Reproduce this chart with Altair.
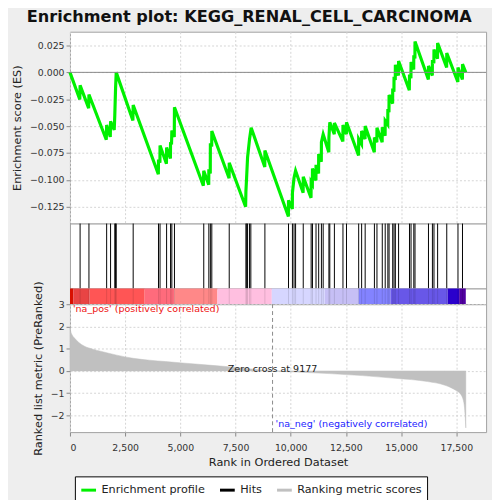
import altair as alt
import pandas as pd

# running enrichment score (rank, ES)
es_rank = [0, 445, 459, 846, 859, 1645, 1661, 1826, 1839, 2004, 2030, 2065, 2095,
           2850, 2863, 4003, 4010, 4075, 4080, 4370, 4377, 4550, 4556, 4600, 4615,
           4725, 4733, 6041, 6060, 6285, 6290, 6355, 6360, 6420, 6425, 7208, 7214,
           7956, 7970, 8000, 8045, 8135, 8208, 8825, 8830, 9894, 9899, 10072, 10077,
           10150, 10220, 10562, 10567, 10920, 10925, 10980, 10985, 11141, 11146,
           11261, 11266, 11385, 11390, 11470, 11725, 11730, 11770, 11973, 11978,
           12361, 12366, 12521, 12526, 13073, 13078, 13207, 13212, 13367, 13372,
           13786, 13791, 13901, 13906, 14142, 14147, 14275, 14280, 14395, 14400,
           14450, 14455, 14615, 14620, 14675, 14680, 14735, 14740, 14881, 14886,
           15372, 15380, 15445, 15450, 15570, 15575, 15625, 15630, 16235, 16240,
           16413, 16418, 16484, 16489, 16649, 16654, 17063, 17068, 17571, 17576,
           17776, 17781, 17930]
es_score = [0.0, -0.0252, -0.0121, -0.0333, -0.0206, -0.0627, -0.049, -0.060, -0.0455,
            -0.0536, -0.040, -0.015, 0.0,
            -0.0448, -0.0303, -0.0948, -0.081, -0.084, -0.068, -0.085, -0.070,
            -0.080, -0.065, -0.067, -0.054,
            -0.060, -0.0325, -0.1055, -0.0915, -0.1045, -0.090, -0.094, -0.066,
            -0.069, -0.0545, -0.0985, -0.084,
            -0.125, -0.1106, -0.0985, -0.079, -0.062, -0.0515, -0.088, -0.0727,
            -0.134, -0.119, -0.127, -0.112,
            -0.098, -0.0915, -0.112, -0.097, -0.1167, -0.102, -0.104, -0.0894,
            -0.1006, -0.086,
            -0.094, -0.076, -0.083, -0.065, -0.0576, -0.0742, -0.0606, -0.0464,
            -0.0576, -0.047,
            -0.0642, -0.049, -0.0576, -0.0464, -0.0773, -0.062, -0.0667, -0.0545,
            -0.062, -0.050,
            -0.0742, -0.0606, -0.065, -0.0515, -0.065, -0.051, -0.059, -0.045,
            -0.0485, -0.034,
            -0.037, -0.021, -0.029, -0.015, -0.018, -0.004, -0.007, 0.007,
            -0.003, 0.0106,
            -0.0167, -0.002, -0.0055, 0.0097, 0.0027, 0.016, 0.013, 0.0288,
            -0.0067, 0.006,
            -0.003, 0.0115, 0.0085, 0.0212, 0.0127, 0.0273, 0.0045, 0.018,
            -0.009, 0.0045,
            -0.0067, 0.0076, 0.0]

# positions of the gene set members in the ranked list
hit_rank = [459, 859, 1661, 1839, 2030, 2065, 2095, 2863, 4010, 4080, 4377, 4556,
            4615, 4733, 6060, 6290, 6360, 6425, 7214, 7970, 8005, 8045, 8135, 8193,
            8830, 9899, 10077, 10150, 10220, 10567, 10925, 10985, 11146, 11266,
            11390, 11470, 11730, 11770, 11978, 12366, 12526, 13078, 13212, 13372,
            13791, 13906, 14147, 14280, 14400, 14455, 14620, 14680, 14740, 14886,
            15380, 15450, 15575, 15630, 16240, 16418, 16489, 16654, 17068, 17576,
            17781]

# ranked list metric
metric_rank = [0, 30, 100, 193, 400, 638, 1000, 1380, 2120, 2860, 4340, 5820, 7300,
               8300, 9177, 10280, 11760, 13250, 14730, 16210, 16950, 17390, 17690,
               17840, 17900, 17930]
metric_value = [1.95, 1.80, 1.62, 1.49, 1.28, 1.12, 0.99, 0.89, 0.71, 0.57, 0.42,
                0.30, 0.18, 0.08, 0.0, -0.05, -0.12, -0.21, -0.33, -0.48, -0.63,
                -0.82, -1.04, -1.41, -2.0, -2.56]

# colour band under the hits
band_start = [0, 147, 890, 3384, 4720, 6680, 9142, 11546, 13078, 14517, 17113, 17630]
band_end = [147, 890, 3384, 4720, 6680, 9142, 11546, 13078, 14517, 17113, 17630, 17930]
band_color = ["#d81000", "#e84444", "#ff5555", "#ff6b7c", "#ff8888", "#ffbfe0",
              "#d6d6ff", "#c6bff5", "#8383ff", "#6857e8", "#2a00cc", "#5000a0"]

x_ticks = [0, 2500, 5000, 7500, 10000, 12500, 15000, 17500]
es_ticks = [-0.125, -0.1, -0.075, -0.05, -0.025, 0.0, 0.025]
metric_ticks = [-2, -1, 0, 1, 2, 3]
zero_cross = 9177

note_text = ["Zero cross at 9177", "'na_pos' (positively correlated)",
             "'na_neg' (negatively correlated)"]
note_rank = [9177, 0, 9177]
note_value = [0.1, 2.78, -2.41]
note_color = ["#222222", "#ee1111", "#2222ff"]
note_align = ["center", "left", "left"]

series = ["Enrichment profile", "Hits", "Ranking metric scores"]
series_colors = ["#00f000", "#000000", "#c0c0c0"]

FONT = "DejaVu Sans"
W = 423
x_scale = alt.Scale(domain=[0, 18850], nice=False, zero=False)
grid = dict(grid=True, gridDash=[2, 2], gridColor="#d4d4d4", labelOverlap=False)
series_scale = alt.Scale(domain=series, range=series_colors)

legend = alt.Legend(orient="none", legendX=5, legendY=452, direction="horizontal",
                    title=None, symbolType="stroke", symbolStrokeWidth=3,
                    symbolSize=225, labelFont=FONT, labelFontSize=11.4,
                    labelColor="#222222", strokeColor="black", fillColor="white",
                    padding=5, columnPadding=8, labelOffset=4)

# --- enrichment score panel
es_df = pd.DataFrame({"rank": es_rank, "es": es_score})
es_x = alt.X("rank:Q", scale=x_scale,
             axis=alt.Axis(values=x_ticks, labels=False, ticks=False, domain=False,
                           title=None, **grid))
es_y = alt.Y("es:Q", scale=alt.Scale(domain=[-0.1406, 0.0378], nice=False, zero=False),
             axis=alt.Axis(values=es_ticks, labelExpr="format(datum.value, '.3f')",
                           title="Enrichment score (ES)", titlePadding=7, **grid))
es_line = alt.Chart(es_df).mark_line(strokeWidth=3.2).transform_calculate(
    series="'Enrichment profile'"
).encode(x=es_x, y=es_y,
         stroke=alt.Stroke("series:N", scale=series_scale, legend=legend))
es_zero = alt.Chart(pd.DataFrame({"es": [0.0]})).mark_rule(
    color="#888888", strokeWidth=1).encode(y=es_y)
es_panel = alt.layer(es_line, es_zero).properties(width=W, height=195)

# --- hits panel
hits_df = pd.DataFrame({"rank": hit_rank})
hits_panel = alt.Chart(hits_df).mark_rule(strokeWidth=1).transform_calculate(
    series="'Hits'"
).encode(
    x=alt.X("rank:Q", scale=x_scale, axis=None),
    stroke=alt.Stroke("series:N", scale=series_scale, legend=legend),
).properties(width=W, height=66)

# --- colour band
band_df = pd.DataFrame({"start": band_start, "end": band_end, "color": band_color})
band = alt.Chart(band_df).mark_rect().encode(
    x=alt.X("start:Q", scale=x_scale, axis=None),
    x2="end:Q",
    color=alt.Color("color:N", scale=None),
)
band_hits = alt.Chart(hits_df).mark_rule(color="black", opacity=0.12).encode(
    x=alt.X("rank:Q", scale=x_scale, axis=None))
band_panel = alt.layer(band, band_hits).properties(width=W, height=16)

# --- ranked list metric panel
metric_df = pd.DataFrame({"rank": metric_rank, "metric": metric_value})
m_x = alt.X("rank:Q", scale=x_scale,
            axis=alt.Axis(values=x_ticks, labelExpr="format(datum.value, ',')",
                          labelPadding=7, title="Rank in Ordered Dataset",
                          titlePadding=4, **grid))
m_y = alt.Y("metric:Q", scale=alt.Scale(domain=[-2.75, 3.0], nice=False),
            axis=alt.Axis(values=metric_ticks, labelExpr="format(datum.value, 'd')",
                          title="Ranked list metric (PreRanked)", titlePadding=7, **grid))
metric_area = alt.Chart(metric_df).mark_area(
    fill="#c0c0c0", strokeWidth=0.5, interpolate="monotone"
).transform_calculate(series="'Ranking metric scores'").encode(
    x=m_x, y=m_y,
    stroke=alt.Stroke("series:N", scale=series_scale, legend=legend),
)
zero_rule = alt.Chart(pd.DataFrame({"rank": [zero_cross]})).mark_rule(
    color="#8a8a8a", strokeDash=[4, 3], strokeWidth=1).encode(x=m_x)

notes = []
for txt, r, v, c, a in zip(note_text, note_rank, note_value, note_color, note_align):
    notes.append(
        alt.Chart(pd.DataFrame({"rank": [r], "metric": [v], "label": [txt]}))
        .mark_text(font=FONT, fontSize=9.7, color=c, align=a, baseline="middle",
                   dx=3 if a == "left" else 0)
        .encode(x=m_x, y=m_y, text="label:N")
    )
metric_panel = alt.layer(metric_area, zero_rule, *notes).properties(width=W, height=130)

chart = alt.vconcat(es_panel, hits_panel, band_panel, metric_panel,
                    spacing=0, bounds="flush").properties(
    title=alt.TitleParams("Enrichment plot: KEGG_RENAL_CELL_CARCINOMA", font=FONT,
                          fontSize=16.4, fontWeight="bold", color="#111111",
                          anchor="middle", offset=6),
    background="#eeeeee",
    padding={"left": 3, "top": -3, "right": 5, "bottom": 0},
).configure_view(
    stroke="#a0a0a0", fill="white"
).configure_axis(
    labelFont=FONT, labelFontSize=9.5, labelColor="#333333", labelOverlap=False,
    titleFont=FONT, titleFontSize=11.5, titleFontWeight="normal", titleColor="#222222",
    tickColor="#888888", tickSize=4, domain=False,
)

chart.save("out.html", embed_options={"renderer": "svg", "actions": False})
